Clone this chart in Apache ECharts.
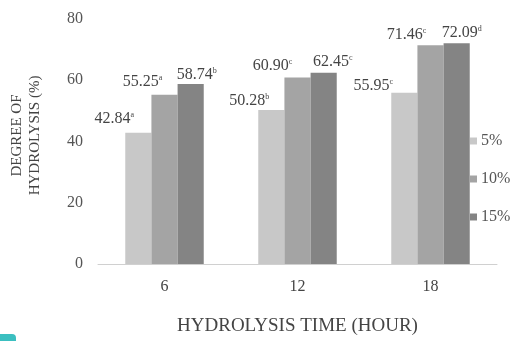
<!DOCTYPE html>
<html><head><meta charset="utf-8">
<script src="https://cdn.jsdelivr.net/npm/echarts@6/dist/echarts.min.js"></script>
<style>html,body{margin:0;padding:0;background:#fff;}#c{width:519px;height:341px;}</style>
</head><body><div id="c"></div>
<script>
const categories = ['6', '12', '18'];
const seriesNames = ['5%', '10%', '15%'];
const values5 = [42.84, 50.28, 55.95];
const values10 = [55.25, 60.90, 71.46];
const values15 = [58.74, 62.45, 72.09];
const sup5 = ['a', 'b', 'c'];
const sup10 = ['a', 'c', 'c'];
const sup15 = ['b', 'c', 'd'];
const yTicks = [0, 20, 40, 60, 80];
const colors = ['#c8c8c8', '#a4a4a4', '#848484'];
// label placement tweaks (styling, not data)
const off5 = [[-24, -3], [-22, 2], [-31, 4]];
const off10 = [[-22, -2], [-25, -1], [-24, 1]];
const off15 = [[6, 2], [9, 0], [5, 1]];

const font = 'Liberation Serif';
function mk(name, vals, sups, offs, color) {
  return {
    name: name, type: 'bar', barGap: '0%', barCategoryGap: '41%',
    data: vals.map(function (v, i) { return { value: v, label: { offset: offs[i] } }; }),
    itemStyle: { color: color },
    label: {
      show: true, position: 'top', distance: 3,
      formatter: function (p) { return p.value.toFixed(2) + '{s|' + sups[p.dataIndex] + '}'; },
      fontFamily: font, fontSize: 16, color: '#444',
      rich: { s: { fontSize: 8, verticalAlign: 'top', padding: [0, 0, 7, 0], color: '#444', fontFamily: font } }
    }
  };
}
const chart = echarts.init(document.getElementById('c'));
chart.setOption({
  animation: false,
  grid: { left: 96, right: 22, top: 19, bottom: 72 },
  legend: {
    orient: 'vertical', left: 465, top: 128, itemWidth: 7, itemHeight: 7, itemGap: 22,
    icon: 'rect',
    textStyle: { fontFamily: font, fontSize: 16, color: '#555', padding: [0, 0, 0, -1] },
    data: seriesNames
  },
  xAxis: {
    type: 'category', data: categories,
    axisLine: { lineStyle: { color: '#d0d0d0', width: 1 } },
    axisTick: { show: false },
    axisLabel: { fontFamily: font, fontSize: 16, color: '#444', margin: 15 },
    name: 'HYDROLYSIS TIME (HOUR)', nameLocation: 'middle', nameGap: 53,
    nameTextStyle: { fontFamily: font, fontSize: 19, color: '#444' }
  },
  yAxis: {
    type: 'value', min: 0, max: 80, interval: 20,
    axisLine: { show: false }, axisTick: { show: false }, splitLine: { show: false },
    axisLabel: { fontFamily: font, fontSize: 16, color: '#555', margin: 15,
      formatter: function (v) { return yTicks.indexOf(v) >= 0 ? String(v) : ''; } },
    name: 'DEGREE OF\nHYDROLYSIS (%)', nameLocation: 'middle', nameGap: 54, nameRotate: 90,
    nameTextStyle: { fontFamily: font, fontSize: 15, color: '#444', lineHeight: 18, padding: [0, 0, 0, 12] }
  },
  graphic: [{
    type: 'rect', left: 0, top: 334,
    shape: { width: 16, height: 8, r: [0, 4, 0, 0] },
    style: { fill: '#3bbfc0' }
  }],
  series: [
    mk(seriesNames[0], values5, sup5, off5, colors[0]),
    mk(seriesNames[1], values10, sup10, off10, colors[1]),
    mk(seriesNames[2], values15, sup15, off15, colors[2])
  ]
});
</script></body></html>
